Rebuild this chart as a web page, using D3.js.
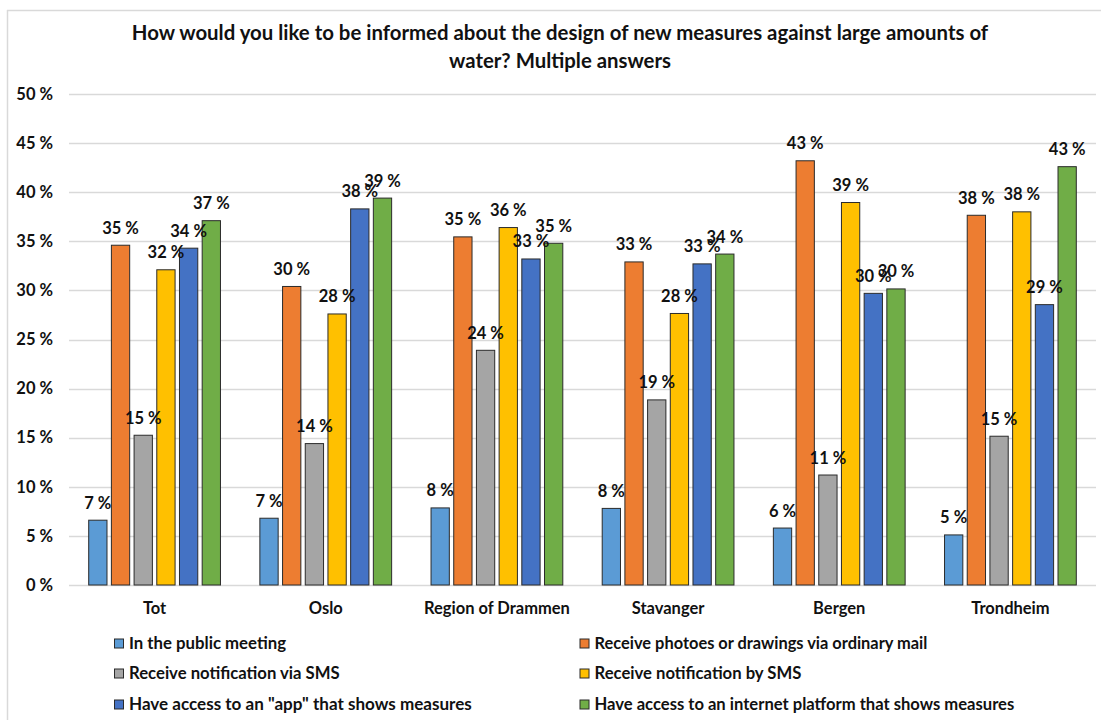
<!DOCTYPE html>
<html>
<head>
<meta charset="utf-8">
<script src="https://cdn.jsdelivr.net/npm/d3@7"></script>
<style>
  html, body { margin: 0; padding: 0; background: #fff; }
  svg { display: block; }
  text { font-family: Lato, "Liberation Sans", sans-serif; font-weight: bold; fill: #111; }
</style>
</head>
<body>
<svg id="chart" width="1101" height="720"></svg>
<script>
// Survey responses per region (share of respondents, %)
const categories = ["Tot", "Oslo", "Region of Drammen", "Stavanger", "Bergen", "Trondheim"];

const seriesNames = [
  "In the public meeting",
  "Receive photoes or drawings via ordinary mail",
  "Receive notification via SMS",
  "Receive notification by SMS",
  "Have access to an \"app\" that shows measures",
  "Have access to an internet platform that shows measures"
];

const seriesColors = ["#5B9BD5", "#ED7D31", "#A5A5A5", "#FFC000", "#4472C4", "#70AD47"];

const publicMeeting = [6.6, 6.8, 7.85, 7.8, 5.8, 5.1];
const photosByMail  = [34.6, 30.4, 35.45, 32.9, 43.2, 37.65];
const smsVia        = [15.25, 14.4, 23.9, 18.85, 11.2, 15.15];
const smsBy         = [32.1, 27.6, 36.4, 27.65, 38.95, 38.0];
const appAccess     = [34.3, 38.3, 33.2, 32.7, 29.7, 28.55];
const webPlatform   = [37.1, 39.4, 34.8, 33.7, 30.15, 42.6];

const seriesValues = [publicMeeting, photosByMail, smsVia, smsBy, appAccess, webPlatform];

const yTicks = [0, 5, 10, 15, 20, 25, 30, 35, 40, 45, 50];

const titleLines = [
  "How would you like to be informed about  the design of new measures against large amounts of",
  "water? Multiple answers"
];

// ---- layout ----
const svg = d3.select("#chart");
const plot = { left: 69, right: 1096, top: 94, bottom: 585 };

// Shrink or grow a text's font size so it spans the wanted width
function fitWidth(sel, width) {
  sel.each(function () {
    const node = this;
    const fs = parseFloat(node.getAttribute("font-size"));
    const w = node.getComputedTextLength();
    if (w > 0) node.setAttribute("font-size", (fs * width / w).toFixed(2));
  });
}

// chart frame (top and left edges)
svg.append("line").attr("x1", 7.5).attr("x2", 7.5).attr("y1", 10).attr("y2", 720)
  .attr("stroke", "#d9d9d9").attr("stroke-width", 1.5);
svg.append("line").attr("x1", 7).attr("x2", 1101).attr("y1", 10.5).attr("y2", 10.5)
  .attr("stroke", "#d9d9d9").attr("stroke-width", 1.5);

// title
const titleY = [40, 67.5];
const titleW = [857, 222];
titleLines.forEach((t, i) => {
  const el = svg.append("text")
    .attr("x", 560).attr("y", titleY[i])
    .attr("text-anchor", "middle")
    .attr("font-size", 19)
    .attr("fill", "#111")
    .text(t);
  fitWidth(el, titleW[i]);
});

// scales
const x0 = d3.scaleBand().domain(categories).range([plot.left, plot.right]).paddingInner(0).paddingOuter(0);
const x1 = d3.scaleBand().domain(d3.range(seriesNames.length)).range([0, x0.bandwidth()])
  .paddingInner(0.194).paddingOuter(0.868);
const y = d3.scaleLinear().domain([0, 50]).range([plot.bottom, plot.top]);

// gridlines
svg.append("g").selectAll("line").data(yTicks).join("line")
  .attr("x1", plot.left).attr("x2", plot.right)
  .attr("y1", d => Math.round(y(d)) + 0.5).attr("y2", d => Math.round(y(d)) + 0.5)
  .attr("stroke", "#d9d9d9").attr("stroke-width", 1.6);

// y axis labels
const yAxis = d3.axisLeft(y).tickValues(yTicks).tickSize(0).tickPadding(0).tickFormat(d => d + " %");
const yG = svg.append("g").attr("transform", "translate(53,0)").call(yAxis);
yG.select(".domain").remove();
yG.selectAll("text")
  .attr("font-size", 16.5)
  .style("font-family", "Lato, 'Liberation Sans', sans-serif")
  .style("font-weight", "bold")
  .attr("fill", "#111");

// category labels
const xAxis = d3.axisBottom(x0).tickSize(0).tickPadding(0);
const xG = svg.append("g").attr("transform", `translate(0,${plot.bottom})`).call(xAxis);
xG.select(".domain").remove();
xG.selectAll("text")
  .attr("y", 29).attr("dy", 0)
  .attr("font-size", 16.5)
  .style("font-family", "Lato, 'Liberation Sans', sans-serif")
  .style("font-weight", "bold")
  .attr("fill", "#111");

// bars
const cells = [];
categories.forEach((c, ci) => {
  seriesValues.forEach((vals, si) => cells.push({ cat: c, s: si, v: vals[ci] }));
});

const bars = svg.append("g");
bars.selectAll("rect").data(cells).join("rect")
  .attr("x", d => x0(d.cat) + x1(d.s))
  .attr("width", x1.bandwidth())
  .attr("y", d => y(d.v))
  .attr("height", d => y(0) - y(d.v))
  .attr("fill", d => seriesColors[d.s])
  .attr("stroke", "#2b2b2b")
  .attr("stroke-width", 1);

// value labels
svg.append("g").selectAll("text").data(cells).join("text")
  .attr("x", d => x0(d.cat) + x1(d.s) + x1.bandwidth() / 2)
  .attr("y", d => y(d.v) - 11.5)
  .attr("text-anchor", "middle")
  .attr("font-size", 16.5)
  .attr("fill", "#111")
  .text(d => Math.round(d.v) + " %");

// legend (two columns, three rows)
const legendCols = [114.5, 580];
const legendRows = [649, 679, 710];
const legendW = [157, 333, 211, 207, 343, 420];
const lg = svg.append("g");
seriesNames.forEach((name, i) => {
  const cx = legendCols[i % 2];
  const ry = legendRows[Math.floor(i / 2)];
  lg.append("rect")
    .attr("x", cx).attr("y", ry - 10)
    .attr("width", 9).attr("height", 9)
    .attr("fill", seriesColors[i])
    .attr("stroke", "#2b2b2b").attr("stroke-width", 1);
  const t = lg.append("text")
    .attr("x", cx + 14.5).attr("y", ry)
    .attr("font-size", 16)
    .attr("fill", "#111")
    .text(name);
  fitWidth(t, legendW[i]);
});
</script>
</body>
</html>
